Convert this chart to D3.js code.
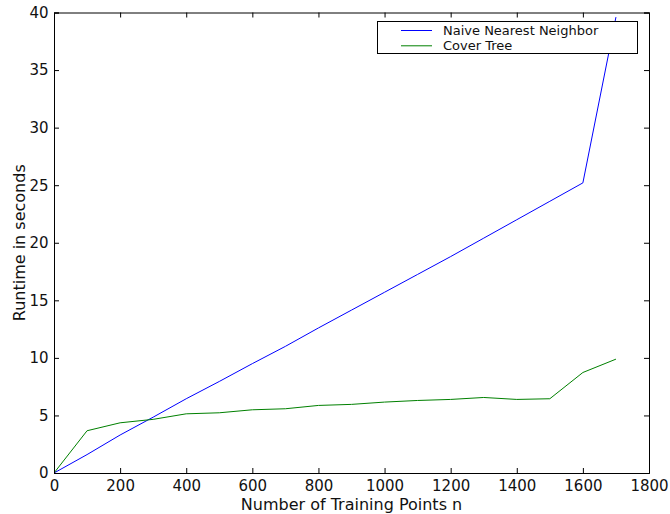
<!DOCTYPE html>
<html>
<head>
<meta charset="utf-8">
<script src="https://cdn.jsdelivr.net/npm/d3@7"></script>
<style>
  html, body { margin: 0; padding: 0; background: #fff; }
  svg { display: block; }
  text { font-family: "DejaVu Sans", sans-serif; fill: #111; }
</style>
</head>
<body>
<svg id="chart" width="670" height="514"></svg>
<script>
const trainingPoints = [0, 100, 200, 300, 400, 500, 600, 700, 800, 900, 1000, 1100, 1200, 1300, 1400, 1500, 1600, 1700];
const naiveNN = [0, 1.6, 3.3, 4.85, 6.45, 7.95, 9.5, 11.0, 12.6, 14.15, 15.7, 17.25, 18.8, 20.4, 22.0, 23.6, 25.2, 39.6];
const coverTree = [0, 3.67, 4.36, 4.66, 5.14, 5.23, 5.49, 5.58, 5.87, 5.96, 6.16, 6.3, 6.39, 6.56, 6.39, 6.45, 8.73, 9.89];
const xTicks = [0, 200, 400, 600, 800, 1000, 1200, 1400, 1600, 1800];
const yTicks = [0, 5, 10, 15, 20, 25, 30, 35, 40];
const seriesNames = ["Naive Nearest Neighbor", "Cover Tree"];
const seriesColors = ["#0000ff", "#008000"];

const svg = d3.select("#chart");
const pLeft = 54, pRight = 649, pTop = 12.5, pBottom = 473;
const x = d3.scaleLinear().domain([0, 1800]).range([pLeft, pRight]);
const y = d3.scaleLinear().domain([0, 40]).range([pBottom, pTop]);

svg.append("defs").append("clipPath").attr("id", "clip")
  .append("rect").attr("x", pLeft).attr("y", pTop).attr("width", pRight - pLeft).attr("height", pBottom - pTop);

const line = d3.line().x(d => x(d[0])).y(d => y(d[1]));
const series = [naiveNN, coverTree];
series.forEach((vals, i) => {
  svg.append("path")
    .datum(trainingPoints.map((n, j) => [n, vals[j]]))
    .attr("d", line)
    .attr("fill", "none")
    .attr("stroke", seriesColors[i])
    .attr("stroke-width", 1)
    .attr("clip-path", "url(#clip)");
});

const tickLen = 5;
const xAxisB = d3.axisBottom(x).tickValues(xTicks).tickSize(-tickLen).tickPadding(7).tickFormat(d3.format("d"));
const gB = svg.append("g").attr("transform", `translate(0,${pBottom})`).call(xAxisB);
const xAxisT = d3.axisTop(x).tickValues(xTicks).tickSize(-tickLen).tickFormat("");
const gT = svg.append("g").attr("transform", `translate(0,${pTop})`).call(xAxisT);
const yAxisL = d3.axisLeft(y).tickValues(yTicks).tickSize(-tickLen).tickPadding(5.5).tickFormat(d3.format("d"));
const gL = svg.append("g").attr("transform", `translate(${pLeft},0)`).call(yAxisL);
const yAxisR = d3.axisRight(y).tickValues(yTicks).tickSize(-tickLen).tickFormat("");
const gR = svg.append("g").attr("transform", `translate(${pRight},0)`).call(yAxisR);

[gB, gT, gL, gR].forEach(g => {
  g.select(".domain").attr("stroke", "#000").attr("stroke-width", 1);
  g.selectAll(".tick line").attr("stroke", "#000").attr("stroke-width", 1);
  g.selectAll(".tick text").attr("font-family", "DejaVu Sans, sans-serif").attr("font-size", 15).attr("fill", "#111");
});

svg.append("text").attr("x", (pLeft + pRight) / 2).attr("y", 510)
  .attr("text-anchor", "middle").attr("font-size", 16).text("Number of Training Points n");
svg.append("text").attr("transform", `translate(24.5,${(pTop + pBottom) / 2}) rotate(-90)`)
  .attr("text-anchor", "middle").attr("font-size", 16).text("Runtime in seconds");

const lg = svg.append("g");
lg.append("rect").attr("x", 377.5).attr("y", 21.5).attr("width", 260).attr("height", 32)
  .attr("fill", "#fff").attr("stroke", "#000").attr("stroke-width", 1);
seriesNames.forEach((name, i) => {
  const yy = 30.5 + i * 15.3;
  lg.append("line").attr("x1", 401).attr("x2", 432).attr("y1", yy).attr("y2", yy)
    .attr("stroke", seriesColors[i]).attr("stroke-width", 1);
  lg.append("text").attr("x", 443).attr("y", yy).attr("dy", "0.35em")
    .attr("font-size", 13).text(name);
});
</script>
</body>
</html>
